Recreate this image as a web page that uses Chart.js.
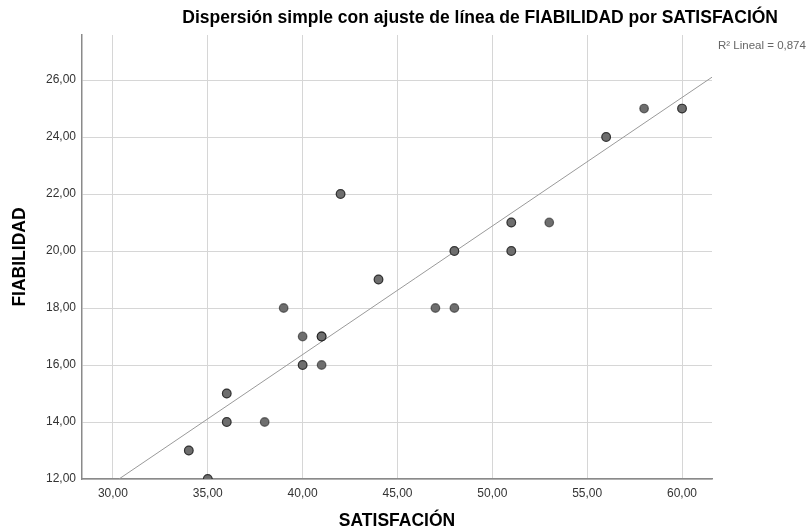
<!DOCTYPE html>
<html>
<head>
<meta charset="utf-8">
<script src="https://cdn.jsdelivr.net/npm/chart.js@4"></script>
<style>
  html, body { margin: 0; padding: 0; background: #fff; }
  #wrap { width: 809px; height: 532px; }
</style>
</head>
<body>
<div id="wrap"><canvas id="myChart" width="809" height="532"></canvas></div>
<script>
// data (points drawn darker in the original are doubled)
var satisfaccion = [34, 34, 35, 35, 36, 36, 36, 36, 38, 39, 40, 40, 40, 41, 41, 41, 41, 42, 42,
                    44, 44, 47, 48, 48, 48, 51, 51, 51, 51, 53, 56, 56, 58, 60, 60];
var fiabilidad   = [13, 13, 12, 12, 15, 15, 14, 14, 14, 18, 17, 16, 16, 17, 17, 16, 17, 22, 22,
                    19, 19, 18, 18, 20, 20, 21, 21, 20, 20, 21, 24, 24, 25, 25, 25];
// fit line ends, as seen on the picture
var ajusteX = [30.32, 61.58];
var ajusteY = [12, 26.1];
var r2Text = 'R\u00b2 Lineal = 0,874';

var xTicks = [30, 35, 40, 45, 50, 55, 60];
var yTicks = [12, 14, 16, 18, 20, 22, 24, 26];

var FONT = '"Liberation Sans", Arial, sans-serif';

function fmt(v) { return v.toFixed(2).replace('.', ','); }

var puntos = satisfaccion.map(function (x, i) { return { x: x, y: fiabilidad[i] }; });
var linea = ajusteX.map(function (x, i) { return { x: x, y: ajusteY[i] }; });

// title and R2 label
var textos = {
    id: 'textos',
    afterDraw: function (chart) {
        var c = chart.ctx;
        c.save();
        c.fillStyle = '#000';
        c.font = 'bold 17.5px ' + FONT;
        c.textAlign = 'right';
        c.textBaseline = 'middle';
        c.fillText('Dispersión simple con ajuste de línea de FIABILIDAD por SATISFACIÓN', 778, 18);
        c.fillStyle = '#666';
        c.font = '11.5px ' + FONT;
        c.textAlign = 'left';
        c.fillText(r2Text, 718, 46);
        c.restore();
    }
};

var ctx = document.getElementById('myChart').getContext('2d');
var chart = new Chart(ctx, {
    type: 'scatter',
    data: {
        datasets: [{
            label: 'ajuste',
            data: linea,
            showLine: true,
            borderColor: '#9a9a9a',
            borderWidth: 1,
            pointRadius: 0,
            pointHoverRadius: 0,
            order: 2
        },
        {
            label: 'FIABILIDAD',
            data: puntos,
            backgroundColor: '#6e6e6e',
            borderColor: 'rgba(0,0,0,0.5)',
            borderWidth: 1.2,
            pointRadius: 4.3,
            order: 1
        }]
    },
    options: {
        responsive: false,
        animation: false,
        layout: { padding: { left: 0, top: 35, right: 97, bottom: 0 } },
        plugins: {
            legend: { display: false },
            tooltip: { enabled: false }
        },
        scales: {
            x: {
                type: 'linear',
                min: 28.37,
                max: 61.58,
                afterBuildTicks: function (s) { s.ticks = xTicks.map(function (v) { return { value: v }; }); },
                afterFit: function (s) { s.height = 53; },
                grid: { color: '#d6d6d6', drawTicks: false },
                border: { color: '#8a8a8a', width: 1.5 },
                ticks: {
                    padding: 7,
                    color: '#333',
                    font: { family: FONT, size: 12 },
                    callback: function (v) { return fmt(v); }
                },
                title: {
                    display: true,
                    text: 'SATISFACIÓN',
                    color: '#000',
                    font: { family: FONT, size: 17.5, weight: 'bold', lineHeight: 1 },
                    padding: { top: 0, bottom: 2 }
                }
            },
            y: {
                type: 'linear',
                min: 12,
                max: 27.58,
                afterBuildTicks: function (s) { s.ticks = yTicks.map(function (v) { return { value: v }; }); },
                afterFit: function (s) { s.width = 82; },
                grid: { color: '#d6d6d6', drawTicks: false },
                border: { color: '#8a8a8a', width: 1.5 },
                ticks: {
                    padding: 6,
                    color: '#333',
                    font: { family: FONT, size: 12 },
                    callback: function (v) { return fmt(v); }
                },
                title: {
                    display: true,
                    text: 'FIABILIDAD',
                    color: '#000',
                    font: { family: FONT, size: 17.5, weight: 'bold', lineHeight: 1 },
                    padding: { top: 11, bottom: 0 }
                }
            }
        }
    },
    plugins: [textos]
});
</script>
</body>
</html>
